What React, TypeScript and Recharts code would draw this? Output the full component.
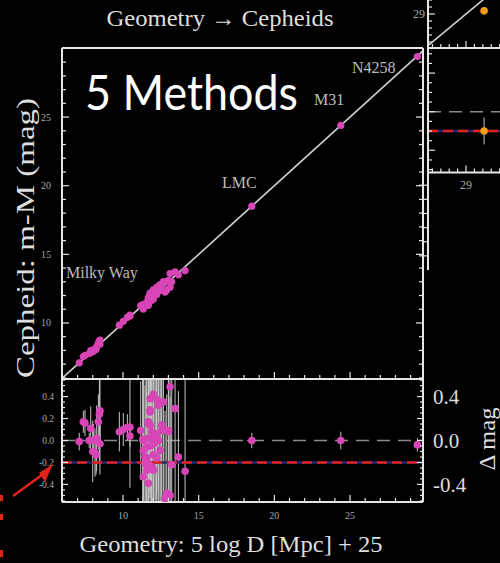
import React from 'react';
import { ScatterChart, Scatter, XAxis, YAxis, ReferenceLine, ErrorBar } from 'recharts';

// geometric distance modulus of each Cepheid host, its Cepheid - geometry residual and error bar
const geoMod = [
  7.11, 7.38, 7.49, 7.77, 7.87, 8.04, 8.0, 8.15, 8.22, 8.26, 8.37, 8.44, 8.48, 8.48,
  9.76, 10.02, 10.29, 10.46, 10.46,
  11.17, 11.3, 11.34, 11.34, 11.34, 11.46, 11.46, 11.57, 11.57, 11.57, 11.67, 11.68, 11.68, 11.68,
  11.68, 11.68, 11.79, 11.79, 11.79, 11.79, 11.79, 11.9, 11.9, 11.9, 12.0, 12.01, 12.0, 12.01,
  12.12, 12.12, 12.23, 12.23, 12.23, 12.33, 12.34, 12.45, 12.45, 12.56, 12.56, 12.67, 12.78,
  12.89, 13.0, 13.0, 13.11, 13.11, 13.22, 13.44, 13.66, 14.1,
];
const resid = [
  -0.01, 0.17, 0.16, 0.0, 0.11, 0.0, -0.1, -0.11, -0.13, 0.02, 0.17, 0.24, 0.27, -0.03,
  0.08, 0.1, 0.12, 0.12, 0.04,
  0.09, 0.01, 0.0, -0.09, -0.33, -0.15, -0.21, -0.06, -0.27, -0.16, 0.15, 0.17, 0.02, -0.21,
  -0.39, -0.24, 0.38, 0.28, 0.26, 0.14, -0.05, 0.08, -0.04, -0.24, 0.42, 0.02, -0.13, -0.27,
  0.06, -0.02, 0.37, 0.03, -0.16, 0.32, 0.0, 0.35, -0.09, 0.14, 0.09, 0.35, -0.53,
  -0.48, 0.09, 0.08, 0.49, -0.5, -0.22, 0.29, -0.15, -0.28,
];
const residErr = [
  0.08, 0.1, 0.12, 0.07, 0.2, 0.15, 0.28, 0.22, 0.18, 0.3, 0.25, 0.45, 0.3, 0.28,
  0.18, 0.15, 0.12, 0.55, 0.1,
  0.45, 0.6, 0.8, 0.7, 0.9, 0.65, 0.85, 0.75, 1.0, 0.6, 0.8, 0.9, 0.7, 0.8,
  0.6, 1.0, 0.9, 0.7, 0.8, 0.6, 0.9, 0.7, 0.8, 0.9, 1.0, 0.8, 0.7, 0.9,
  0.6, 0.8, 0.9, 0.7, 1.0, 0.8, 0.6, 0.9, 0.8, 0.7, 0.6, 1.0, 0.8,
  0.9, 0.7, 0.6, 1.0, 0.9, 0.8, 0.9, 0.6, 1.0,
];

// LMC, M31, N4258
const anchorGeo = [18.51, 24.39, 29.45];
const anchorResid = [0.0, 0.0, -0.04];
const anchorErr = [0.07, 0.08, 0.06];
const anchorGeoErr = [0.3, 0.25, 0.2];

// the orange point of the cut-off panel on the right
const insetGeo = [29.43];
const insetCeph = [29.09];
const insetResid = [-0.2];
const insetErr = [0.14];

const magTicks = [6, 7, 8, 9, 10, 11, 12, 13, 14, 15, 16, 17, 18, 19, 20, 21, 22, 23, 24, 25, 26, 27, 28, 29, 30];
const magMajor = [10, 15, 20, 25];
const residTicks = [
  -0.55, -0.5, -0.45, -0.4, -0.35, -0.3, -0.25, -0.2, -0.15, -0.1, -0.05, 0,
  0.05, 0.1, 0.15, 0.2, 0.25, 0.3, 0.35, 0.4, 0.45, 0.5, 0.55,
];
const residMajor = [-0.4, -0.2, 0, 0.2, 0.4];
const residRightLabels = [-0.4, 0, 0.4];
const insetXTicks = [28.2, 28.4, 28.6, 28.8, 29, 29.2, 29.4, 29.6, 29.8, 30, 30.2];
const insetYTicks = [28.2, 28.4, 28.6, 28.8, 29, 29.2, 29.4, 29.6, 29.8];
const insetResidTicks = [-0.6, -0.5, -0.4, -0.3, -0.2, -0.1, 0, 0.1, 0.2, 0.3, 0.4, 0.5, 0.6];
const fragTicks = [1, 2, 3, 4, 5, 6];

const PINK = '#d845b6';
const ORANGE = '#f59b1e';
const FRAME = '#e6e6e6';
const SERIF = '"Liberation Serif", "DejaVu Serif", serif';

const MAG_X: [number, number] = [5.97, 29.82];
const MAG_Y: [number, number] = [5.92, 30.03];
const RES_Y: [number, number] = [-0.56, 0.56];
const INSET_X: [number, number] = [28.095, 30.285];
const INSET_RES_Y: [number, number] = [-0.63, 0.66];

// error bars are cut at the panel edges, as in the original figure
const clipErr = (y: number, e: number, [lo, hi]: [number, number]) => [Math.min(e, y - lo), Math.min(e, hi - y)];

const mainRows = geoMod.map((g, i) => ({ x: g, y: g + resid[i] }));
const mainAnchorRows = anchorGeo.map((g, i) => ({ x: g, y: g + anchorResid[i] }));
const residRows = geoMod.map((g, i) => ({ x: g, y: resid[i], ey: clipErr(resid[i], residErr[i], RES_Y) }));
const anchorRows = anchorGeo.map((g, i) => ({ x: g, y: anchorResid[i], ey: anchorErr[i], ex: anchorGeoErr[i] }));
const insetRows = insetGeo.map((g, i) => ({ x: g, y: insetCeph[i] }));
const insetResidRows = insetGeo.map((g, i) => ({ x: g, y: insetResid[i], ey: insetErr[i] }));

type Side = 'top' | 'bottom' | 'left' | 'right';
interface TickOpts {
  side: Side;
  majors: number[];
  labels?: number[];
  fmt?: (v: number) => string;
  fontSize?: number;
  fill?: string;
  gap?: number;
  out?: boolean;
  majorLen?: number;
  minorLen?: number;
}

const has = (list: number[], v: number) => list.some((m) => Math.abs(m - v) < 1e-6);

// ticks drawn inside the frame, IDL style; labels only where asked
function frameTick(o: TickOpts) {
  return (props: any) => {
    const { x, y, payload } = props;
    const v = payload.value as number;
    const major = has(o.majors, v);
    const len = major ? o.majorLen ?? 7 : o.minorLen ?? 4;
    const s = o.out ? -1 : 1;
    const gap = o.gap ?? 8;
    let x2 = x;
    let y2 = y;
    let tx = x;
    let ty = y;
    let anchor: 'start' | 'middle' | 'end' = 'middle';
    let dy = '0.35em';
    if (o.side === 'bottom') { y2 = y - s * len; ty = y + gap; dy = '0'; }
    if (o.side === 'top') { y2 = y + s * len; ty = y - gap; dy = '0'; }
    if (o.side === 'left') { x2 = x + s * len; tx = x - gap; anchor = 'end'; }
    if (o.side === 'right') { x2 = x - s * len; tx = x + gap; anchor = 'start'; }
    const label = o.labels && has(o.labels, v);
    return (
      <g>
        <line x1={x} y1={y} x2={x2} y2={y2} stroke={FRAME} strokeWidth={1.2} />
        {label && (
          <text x={tx} y={ty} dy={dy} textAnchor={anchor} fontSize={o.fontSize ?? 10} fill={o.fill ?? '#a8a8a8'} fontFamily={SERIF}>
            {o.fmt ? o.fmt(v) : String(v)}
          </text>
        )}
      </g>
    );
  };
}

// every axis is 1px thick so that its tick anchor sits exactly on the frame
const axisLine = { stroke: FRAME, strokeWidth: 2 };
const flat = { tickSize: 0, tickMargin: 0, tickLine: false, interval: 0 as const, axisLine, allowDataOverflow: true, type: 'number' as const };
const fixed1 = (v: number) => v.toFixed(1);

const dot = (r: number, fill: string) => (p: any) => <circle cx={p.cx} cy={p.cy} r={r} fill={fill} />;

const layer: React.CSSProperties = { position: 'absolute', left: 0, top: 0 };

function MainPanel() {
  const xt = magTicks.slice(0, 24);
  return (
    <ScatterChart width={500} height={563} margin={{ top: 47, right: 76, bottom: 183, left: 61 }}>
      <XAxis dataKey="x" domain={MAG_X} height={1} ticks={xt} {...flat} tick={frameTick({ side: 'bottom', majors: magMajor })} />
      <XAxis xAxisId="t" orientation="top" domain={MAG_X} height={1} ticks={xt} {...flat} tick={frameTick({ side: 'top', majors: magMajor })} />
      <YAxis dataKey="y" domain={MAG_Y} width={1} ticks={magTicks} {...flat}
        tick={frameTick({ side: 'left', majors: magMajor, labels: magMajor, gap: 11, fontSize: 10 })} />
      <YAxis yAxisId="r" orientation="right" domain={MAG_Y} width={1} ticks={magTicks} {...flat} tick={frameTick({ side: 'right', majors: magMajor })} />
      <Scatter data={mainRows} shape={dot(3.6, PINK)} isAnimationActive={false} />
      <Scatter data={mainAnchorRows} shape={dot(3.6, PINK)} isAnimationActive={false} />
      <ReferenceLine segment={[{ x: 5.97, y: 5.97 }, { x: 29.82, y: 29.82 }]} stroke="#d0d0d0" strokeWidth={1.6} ifOverflow="visible" />
    </ScatterChart>
  );
}

function ResidualPanel() {
  const xt = magTicks.slice(0, 24);
  return (
    <ScatterChart width={500} height={563} margin={{ top: 378, right: 76, bottom: 60, left: 61 }}>
      <XAxis dataKey="x" domain={MAG_X} height={1} ticks={xt} {...flat}
        tick={frameTick({ side: 'bottom', majors: magMajor, labels: magMajor, gap: 17, fontSize: 10 })} />
      <XAxis xAxisId="t" orientation="top" domain={MAG_X} height={1} ticks={xt} {...flat} tick={frameTick({ side: 'top', majors: magMajor })} />
      <YAxis dataKey="y" domain={RES_Y} width={1} ticks={residTicks} {...flat}
        tick={frameTick({ side: 'left', majors: residMajor, labels: residMajor, fmt: fixed1, gap: 8, fontSize: 9.5, majorLen: 6, minorLen: 3 })} />
      <YAxis yAxisId="r" orientation="right" domain={RES_Y} width={1} ticks={residTicks} {...flat}
        tick={frameTick({ side: 'right', majors: residMajor, labels: residRightLabels, fmt: fixed1, gap: 10, fontSize: 21, fill: '#dcdcdc', majorLen: 6, minorLen: 3 })} />
      <ReferenceLine y={0} stroke="#8a8a8a" strokeWidth={1.5} strokeDasharray="13 8" />
      <Scatter data={residRows} shape={dot(3.8, PINK)} isAnimationActive={false}>
        <ErrorBar dataKey="ey" direction="y" width={0} stroke="#c4c4c4" strokeWidth={1} />
      </Scatter>
      <Scatter data={anchorRows} shape={dot(3.8, PINK)} isAnimationActive={false}>
        <ErrorBar dataKey="ey" direction="y" width={0} stroke="#c4c4c4" strokeWidth={1} />
        <ErrorBar dataKey="ex" direction="x" width={0} stroke="#c4c4c4" strokeWidth={1} />
      </Scatter>
      <ReferenceLine y={-0.2} stroke="#1c2a78" strokeWidth={2.4} />
      <ReferenceLine y={-0.2} stroke="#e3231c" strokeWidth={2.6} strokeDasharray="10 5" />
    </ScatterChart>
  );
}

function InsetTop() {
  return (
    <ScatterChart width={540} height={300} margin={{ top: 20, right: 20, bottom: 211, left: 427 }}>
      <XAxis dataKey="x" domain={INSET_X} height={1} ticks={insetXTicks} {...flat} tick={frameTick({ side: 'bottom', majors: [29] })} />
      <YAxis dataKey="y" domain={[28.03, 29.97]} width={1} ticks={insetYTicks} {...flat}
        tick={frameTick({ side: 'left', majors: [29], labels: [29], gap: 3, fontSize: 12 })} />
      <ReferenceLine segment={[{ x: 28.095, y: 28.095 }, { x: 29.97, y: 29.97 }]} stroke="#d0d0d0" strokeWidth={1.6} ifOverflow="visible" />
      <Scatter data={insetRows} shape={dot(3.8, ORANGE)} isAnimationActive={false} />
    </ScatterChart>
  );
}

function InsetResidual() {
  return (
    <ScatterChart width={540} height={563} margin={{ top: 47, right: 20, bottom: 389.5, left: 427 }}>
      <XAxis dataKey="x" domain={INSET_X} height={1} ticks={insetXTicks} {...flat}
        tick={frameTick({ side: 'bottom', majors: [29], labels: [29], gap: 16, fontSize: 12 })} />
      <XAxis xAxisId="t" orientation="top" domain={INSET_X} height={1} ticks={insetXTicks} {...flat} tick={frameTick({ side: 'top', majors: [29] })} />
      <YAxis dataKey="y" domain={INSET_RES_Y} width={1} ticks={insetResidTicks} {...flat} tick={frameTick({ side: 'left', majors: [-0.4, 0, 0.4] })} />
      <ReferenceLine y={0} stroke="#8a8a8a" strokeWidth={1.5} strokeDasharray="13 8" />
      <ReferenceLine y={-0.2} stroke="#1c2a78" strokeWidth={2.4} />
      <ReferenceLine y={-0.2} stroke="#e3231c" strokeWidth={2.6} strokeDasharray="10 5" />
      <Scatter data={insetResidRows} shape={dot(3.8, ORANGE)} isAnimationActive={false}>
        <ErrorBar dataKey="ey" direction="y" width={0} stroke="#c4c4c4" strokeWidth={1} />
      </Scatter>
    </ScatterChart>
  );
}

function InsetFragment() {
  return (
    <ScatterChart width={540} height={563} margin={{ top: 172.5, right: 20, bottom: 293, left: 427 }}>
      <XAxis domain={INSET_X} type="number" height={0} hide />
      <YAxis domain={[0, 6.9]} width={1} ticks={fragTicks} {...flat}
        tick={frameTick({ side: 'left', majors: [1, 6], out: true, majorLen: 9, minorLen: 5 })} />
    </ScatterChart>
  );
}

export default function App() {
  return (
    <div style={{ position: 'absolute', left: 0, top: 0, width: 500, height: 563, overflow: 'hidden', background: '#000' }}>
      <div style={layer}><MainPanel /></div>
      <div style={layer}><ResidualPanel /></div>
      <div style={{ ...layer, top: -40 }}><InsetTop /></div>
      <div style={layer}><InsetResidual /></div>
      <div style={layer}><InsetFragment /></div>
      <svg width={500} height={563} style={{ ...layer, pointerEvents: 'none' }}>
        <text x={220} y={26} textAnchor="middle" fontSize={24} fill="#dedede" fontFamily={SERIF} textLength={227} lengthAdjust="spacingAndGlyphs">
          Geometry → Cepheids
        </text>
        <text x={85} y={110} fontSize={48} fill="#ffffff" fontFamily="Lato, 'Open Sans', sans-serif" textLength={213} lengthAdjust="spacingAndGlyphs">
          5 Methods
        </text>
        <text x={352} y={73} fontSize={16} fill="#bdbdbd" fontFamily={SERIF}>N4258</text>
        <text x={314} y={105} fontSize={16} fill="#bdbdbd" fontFamily={SERIF}>M31</text>
        <text x={222} y={188} fontSize={16} fill="#bdbdbd" fontFamily={SERIF}>LMC</text>
        <text x={66} y={278} fontSize={16} fill="#bdbdbd" fontFamily={SERIF}>Milky Way</text>
        <text transform="translate(34 238) rotate(-90)" textAnchor="middle" fontSize={26} fill="#dedede" fontFamily={SERIF} textLength={280} lengthAdjust="spacingAndGlyphs">
          Cepheid: m-M (mag)
        </text>
        <text x={231} y={552} textAnchor="middle" fontSize={24} fill="#dedede" fontFamily={SERIF} textLength={303} lengthAdjust="spacingAndGlyphs">
          Geometry: 5 log D [Mpc] + 25
        </text>
        <text transform="translate(495 439) rotate(-90)" textAnchor="middle" fontSize={23} fill="#dedede" fontFamily={SERIF} textLength={63} lengthAdjust="spacingAndGlyphs">
          Δ mag
        </text>
        <line x1={13} y1={496} x2={46} y2={472} stroke="#e3231c" strokeWidth={2.5} />
        <polygon points="53,464 39,473 45,482" fill="#e3231c" />
        <rect x={0} y={495} width={3} height={6} fill="#e3231c" />
        <rect x={0} y={514} width={3} height={6} fill="#e3231c" />
        <rect x={0} y={550} width={3} height={7} fill="#e3231c" />
      </svg>
    </div>
  );
}
